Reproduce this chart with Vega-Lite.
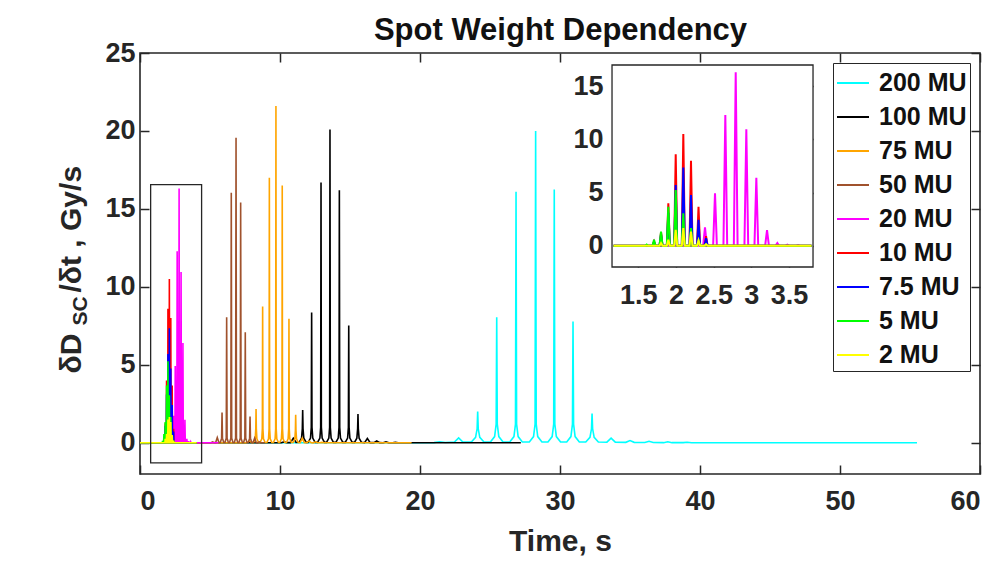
{
  "$schema": "https://vega.github.io/schema/vega-lite/v6.json",
  "width": 840,
  "height": 421,
  "autosize": {"type": "none"},
  "padding": {"left": 140, "top": 53, "right": 19, "bottom": 89},
  "background": "white",
  "config": {
    "view": {"stroke": "#262626", "strokeWidth": 1.6},
    "font": "Liberation Sans",
    "axis": {"labelFont": "Liberation Sans", "labelFontSize": 27, "labelFontWeight": "bold", "labelColor": "#262626", "titleFont": "Liberation Sans", "titleFontSize": 30, "titleFontWeight": "bold", "titleColor": "#262626", "tickColor": "#262626", "tickWidth": 1.5, "grid": false, "domain": false, "zindex": 1, "labelOverlap": false}
  },
  "datasets": {
    "box": [{"x1": 0.76, "x2": 4.4, "y1": -1.29, "y2": 16.56}],
    "inset": [{"x1": 1.15, "x2": 3.82, "y1": -2, "y2": 17}],
    "lines": [
      {"s":"200 MU","t":0,"v":0},{"s":"200 MU","t":21.0,"v":0.01},{"s":"200 MU","t":21.4,"v":0.07},{"s":"200 MU","t":21.8,"v":0.02},{"s":"200 MU","t":22.46,"v":0.05},{"s":"200 MU","t":22.76,"v":0.32},{"s":"200 MU","t":23.06,"v":0.05},
      {"s":"200 MU","t":23.67,"v":0.05},{"s":"200 MU","t":23.97,"v":0.35},{"s":"200 MU","t":24.08,"v":0.9},{"s":"200 MU","t":24.12,"v":2.0},{"s":"200 MU","t":24.16,"v":0.9},{"s":"200 MU","t":24.27,"v":0.35},{"s":"200 MU","t":24.57,"v":0.05},
      {"s":"200 MU","t":25.03,"v":0.05},{"s":"200 MU","t":25.33,"v":0.4},{"s":"200 MU","t":25.44,"v":1.2},{"s":"200 MU","t":25.48,"v":8.06},{"s":"200 MU","t":25.52,"v":1.2},{"s":"200 MU","t":25.63,"v":0.4},{"s":"200 MU","t":25.93,"v":0.05},
      {"s":"200 MU","t":26.41,"v":0.05},{"s":"200 MU","t":26.71,"v":0.4},{"s":"200 MU","t":26.82,"v":1.2},{"s":"200 MU","t":26.86,"v":16.1},{"s":"200 MU","t":26.9,"v":1.2},{"s":"200 MU","t":27.01,"v":0.4},{"s":"200 MU","t":27.31,"v":0.05},
      {"s":"200 MU","t":27.81,"v":0.05},{"s":"200 MU","t":28.11,"v":0.4},{"s":"200 MU","t":28.22,"v":1.2},{"s":"200 MU","t":28.26,"v":20.0},{"s":"200 MU","t":28.3,"v":1.2},{"s":"200 MU","t":28.41,"v":0.4},{"s":"200 MU","t":28.71,"v":0.05},
      {"s":"200 MU","t":29.14,"v":0.05},{"s":"200 MU","t":29.44,"v":0.4},{"s":"200 MU","t":29.55,"v":1.2},{"s":"200 MU","t":29.59,"v":16.25},{"s":"200 MU","t":29.63,"v":1.2},{"s":"200 MU","t":29.74,"v":0.4},{"s":"200 MU","t":30.04,"v":0.05},
      {"s":"200 MU","t":30.48,"v":0.05},{"s":"200 MU","t":30.78,"v":0.4},{"s":"200 MU","t":30.89,"v":1.2},{"s":"200 MU","t":30.93,"v":7.78},{"s":"200 MU","t":30.97,"v":1.2},{"s":"200 MU","t":31.08,"v":0.4},{"s":"200 MU","t":31.38,"v":0.05},
      {"s":"200 MU","t":31.84,"v":0.05},{"s":"200 MU","t":32.14,"v":0.35},{"s":"200 MU","t":32.25,"v":0.9},{"s":"200 MU","t":32.29,"v":1.88},{"s":"200 MU","t":32.33,"v":0.9},{"s":"200 MU","t":32.44,"v":0.35},{"s":"200 MU","t":32.74,"v":0.05},
      {"s":"200 MU","t":33.35,"v":0.04},{"s":"200 MU","t":33.65,"v":0.3},{"s":"200 MU","t":33.95,"v":0.04},{"s":"200 MU","t":34.7,"v":0.03},{"s":"200 MU","t":35.0,"v":0.14},{"s":"200 MU","t":35.3,"v":0.03},{"s":"200 MU","t":36.06,"v":0.02},{"s":"200 MU","t":36.36,"v":0.1},{"s":"200 MU","t":36.66,"v":0.02},{"s":"200 MU","t":37.4,"v":0.01},{"s":"200 MU","t":37.7,"v":0.07},{"s":"200 MU","t":38.0,"v":0.01},{"s":"200 MU","t":38.8,"v":0.01},{"s":"200 MU","t":39.08,"v":0.04},{"s":"200 MU","t":39.4,"v":0},{"s":"200 MU","t":55.5,"v":0},

      {"s":"100 MU","t":0,"v":0},{"s":"100 MU","t":10.09,"v":0},{"s":"100 MU","t":10.29,"v":0.06},{"s":"100 MU","t":10.49,"v":0.01},{"s":"100 MU","t":10.75,"v":0.01},{"s":"100 MU","t":10.95,"v":0.3},{"s":"100 MU","t":11.15,"v":0.02},
      {"s":"100 MU","t":11.37,"v":0.03},{"s":"100 MU","t":11.54,"v":0.3},{"s":"100 MU","t":11.595,"v":0.9},{"s":"100 MU","t":11.62,"v":2.1},{"s":"100 MU","t":11.645,"v":0.9},{"s":"100 MU","t":11.7,"v":0.3},{"s":"100 MU","t":11.87,"v":0.03},
      {"s":"100 MU","t":12.01,"v":0.03},{"s":"100 MU","t":12.18,"v":0.3},{"s":"100 MU","t":12.235,"v":1.0},{"s":"100 MU","t":12.26,"v":8.36},{"s":"100 MU","t":12.285,"v":1.0},{"s":"100 MU","t":12.34,"v":0.3},{"s":"100 MU","t":12.51,"v":0.03},
      {"s":"100 MU","t":12.68,"v":0.03},{"s":"100 MU","t":12.85,"v":0.3},{"s":"100 MU","t":12.905,"v":1.0},{"s":"100 MU","t":12.93,"v":16.7},{"s":"100 MU","t":12.955,"v":1.0},{"s":"100 MU","t":13.01,"v":0.3},{"s":"100 MU","t":13.18,"v":0.03},
      {"s":"100 MU","t":13.32,"v":0.03},{"s":"100 MU","t":13.49,"v":0.3},{"s":"100 MU","t":13.545,"v":1.0},{"s":"100 MU","t":13.57,"v":20.1},{"s":"100 MU","t":13.595,"v":1.0},{"s":"100 MU","t":13.65,"v":0.3},{"s":"100 MU","t":13.82,"v":0.03},
      {"s":"100 MU","t":13.99,"v":0.03},{"s":"100 MU","t":14.16,"v":0.3},{"s":"100 MU","t":14.215,"v":1.0},{"s":"100 MU","t":14.24,"v":16.2},{"s":"100 MU","t":14.265,"v":1.0},{"s":"100 MU","t":14.32,"v":0.3},{"s":"100 MU","t":14.49,"v":0.03},
      {"s":"100 MU","t":14.66,"v":0.03},{"s":"100 MU","t":14.83,"v":0.3},{"s":"100 MU","t":14.885,"v":1.0},{"s":"100 MU","t":14.91,"v":7.52},{"s":"100 MU","t":14.935,"v":1.0},{"s":"100 MU","t":14.99,"v":0.3},{"s":"100 MU","t":15.16,"v":0.03},
      {"s":"100 MU","t":15.32,"v":0.03},{"s":"100 MU","t":15.49,"v":0.3},{"s":"100 MU","t":15.545,"v":0.9},{"s":"100 MU","t":15.57,"v":1.85},{"s":"100 MU","t":15.595,"v":0.9},{"s":"100 MU","t":15.65,"v":0.3},{"s":"100 MU","t":15.82,"v":0.03},
      {"s":"100 MU","t":16.04,"v":0.01},{"s":"100 MU","t":16.24,"v":0.28},{"s":"100 MU","t":16.44,"v":0.01},{"s":"100 MU","t":16.71,"v":0.01},{"s":"100 MU","t":16.91,"v":0.12},{"s":"100 MU","t":17.11,"v":0.01},{"s":"100 MU","t":17.37,"v":0},{"s":"100 MU","t":17.57,"v":0.06},{"s":"100 MU","t":17.77,"v":0},{"s":"100 MU","t":18.04,"v":0},{"s":"100 MU","t":18.24,"v":0.03},{"s":"100 MU","t":18.44,"v":0},{"s":"100 MU","t":27.2,"v":0},

      {"s":"75 MU","t":0,"v":0},{"s":"75 MU","t":7.63,"v":0},{"s":"75 MU","t":7.81,"v":0.12},{"s":"75 MU","t":7.99,"v":0.01},
      {"s":"75 MU","t":8.11,"v":0.02},{"s":"75 MU","t":8.23,"v":0.25},{"s":"75 MU","t":8.27,"v":0.9},{"s":"75 MU","t":8.29,"v":2.17},{"s":"75 MU","t":8.31,"v":0.9},{"s":"75 MU","t":8.35,"v":0.25},{"s":"75 MU","t":8.47,"v":0.02},
      {"s":"75 MU","t":8.58,"v":0.02},{"s":"75 MU","t":8.7,"v":0.25},{"s":"75 MU","t":8.74,"v":0.9},{"s":"75 MU","t":8.76,"v":8.75},{"s":"75 MU","t":8.78,"v":0.9},{"s":"75 MU","t":8.82,"v":0.25},{"s":"75 MU","t":8.94,"v":0.02},
      {"s":"75 MU","t":9.06,"v":0.02},{"s":"75 MU","t":9.18,"v":0.25},{"s":"75 MU","t":9.22,"v":0.9},{"s":"75 MU","t":9.24,"v":17.0},{"s":"75 MU","t":9.26,"v":0.9},{"s":"75 MU","t":9.3,"v":0.25},{"s":"75 MU","t":9.42,"v":0.02},
      {"s":"75 MU","t":9.53,"v":0.02},{"s":"75 MU","t":9.65,"v":0.25},{"s":"75 MU","t":9.69,"v":0.9},{"s":"75 MU","t":9.71,"v":21.6},{"s":"75 MU","t":9.73,"v":0.9},{"s":"75 MU","t":9.77,"v":0.25},{"s":"75 MU","t":9.89,"v":0.02},
      {"s":"75 MU","t":9.98,"v":0.02},{"s":"75 MU","t":10.1,"v":0.25},{"s":"75 MU","t":10.14,"v":0.9},{"s":"75 MU","t":10.16,"v":16.5},{"s":"75 MU","t":10.18,"v":0.9},{"s":"75 MU","t":10.22,"v":0.25},{"s":"75 MU","t":10.34,"v":0.02},
      {"s":"75 MU","t":10.46,"v":0.02},{"s":"75 MU","t":10.58,"v":0.25},{"s":"75 MU","t":10.62,"v":0.9},{"s":"75 MU","t":10.64,"v":7.96},{"s":"75 MU","t":10.66,"v":0.9},{"s":"75 MU","t":10.7,"v":0.25},{"s":"75 MU","t":10.82,"v":0.02},
      {"s":"75 MU","t":10.94,"v":0.02},{"s":"75 MU","t":11.06,"v":0.25},{"s":"75 MU","t":11.1,"v":0.8},{"s":"75 MU","t":11.12,"v":1.8},{"s":"75 MU","t":11.14,"v":0.8},{"s":"75 MU","t":11.18,"v":0.25},{"s":"75 MU","t":11.3,"v":0.02},
      {"s":"75 MU","t":11.44,"v":0.01},{"s":"75 MU","t":11.59,"v":0.3},{"s":"75 MU","t":11.74,"v":0.01},{"s":"75 MU","t":11.92,"v":0.01},{"s":"75 MU","t":12.07,"v":0.12},{"s":"75 MU","t":12.22,"v":0.01},{"s":"75 MU","t":12.39,"v":0},{"s":"75 MU","t":12.54,"v":0.06},{"s":"75 MU","t":12.69,"v":0},{"s":"75 MU","t":12.85,"v":0},{"s":"75 MU","t":13.0,"v":0.03},{"s":"75 MU","t":13.15,"v":0},{"s":"75 MU","t":19.4,"v":0},

      {"s":"50 MU","t":0,"v":0},{"s":"50 MU","t":5.07,"v":0},{"s":"50 MU","t":5.19,"v":0.06},{"s":"50 MU","t":5.31,"v":0.01},{"s":"50 MU","t":5.4,"v":0.01},{"s":"50 MU","t":5.52,"v":0.34},{"s":"50 MU","t":5.64,"v":0.01},
      {"s":"50 MU","t":5.74,"v":0.02},{"s":"50 MU","t":5.83,"v":0.3},{"s":"50 MU","t":5.86,"v":1.95},{"s":"50 MU","t":5.89,"v":0.3},{"s":"50 MU","t":5.98,"v":0.02},
      {"s":"50 MU","t":6.07,"v":0.02},{"s":"50 MU","t":6.16,"v":0.3},{"s":"50 MU","t":6.19,"v":8.06},{"s":"50 MU","t":6.22,"v":0.3},{"s":"50 MU","t":6.31,"v":0.02},
      {"s":"50 MU","t":6.4,"v":0.02},{"s":"50 MU","t":6.49,"v":0.3},{"s":"50 MU","t":6.52,"v":16.03},{"s":"50 MU","t":6.55,"v":0.3},{"s":"50 MU","t":6.64,"v":0.02},
      {"s":"50 MU","t":6.74,"v":0.02},{"s":"50 MU","t":6.83,"v":0.3},{"s":"50 MU","t":6.86,"v":19.57},{"s":"50 MU","t":6.89,"v":0.3},{"s":"50 MU","t":6.98,"v":0.02},
      {"s":"50 MU","t":7.07,"v":0.02},{"s":"50 MU","t":7.16,"v":0.3},{"s":"50 MU","t":7.19,"v":15.41},{"s":"50 MU","t":7.22,"v":0.3},{"s":"50 MU","t":7.31,"v":0.02},
      {"s":"50 MU","t":7.4,"v":0.02},{"s":"50 MU","t":7.49,"v":0.3},{"s":"50 MU","t":7.52,"v":7.09},{"s":"50 MU","t":7.55,"v":0.3},{"s":"50 MU","t":7.64,"v":0.02},
      {"s":"50 MU","t":7.74,"v":0.02},{"s":"50 MU","t":7.83,"v":0.3},{"s":"50 MU","t":7.86,"v":1.69},{"s":"50 MU","t":7.89,"v":0.3},{"s":"50 MU","t":7.98,"v":0.02},
      {"s":"50 MU","t":8.07,"v":0.01},{"s":"50 MU","t":8.19,"v":0.3},{"s":"50 MU","t":8.31,"v":0.01},{"s":"50 MU","t":8.4,"v":0},{"s":"50 MU","t":8.52,"v":0.06},{"s":"50 MU","t":8.64,"v":0},{"s":"50 MU","t":8.9,"v":0},

      {"s":"20 MU","t":0,"v":0},{"s":"20 MU","t":1.17,"v":0},{"s":"20 MU","t":2.36,"v":0},{"s":"20 MU","t":2.385,"v":1.73},{"s":"20 MU","t":2.41,"v":0},{"s":"20 MU","t":2.493,"v":0},{"s":"20 MU","t":2.518,"v":4.93},{"s":"20 MU","t":2.543,"v":0},{"s":"20 MU","t":2.63,"v":0},{"s":"20 MU","t":2.655,"v":12.29},{"s":"20 MU","t":2.68,"v":0},{"s":"20 MU","t":2.768,"v":0},{"s":"20 MU","t":2.793,"v":16.31},{"s":"20 MU","t":2.818,"v":0},{"s":"20 MU","t":2.909,"v":0},{"s":"20 MU","t":2.934,"v":10.95},{"s":"20 MU","t":2.959,"v":0},{"s":"20 MU","t":3.042,"v":0},{"s":"20 MU","t":3.067,"v":6.4},{"s":"20 MU","t":3.092,"v":0},{"s":"20 MU","t":3.184,"v":0},{"s":"20 MU","t":3.209,"v":1.48},{"s":"20 MU","t":3.234,"v":0},{"s":"20 MU","t":3.321,"v":0},{"s":"20 MU","t":3.346,"v":0.25},{"s":"20 MU","t":3.371,"v":0},{"s":"20 MU","t":3.454,"v":0},{"s":"20 MU","t":3.479,"v":0.1},{"s":"20 MU","t":3.504,"v":0},{"s":"20 MU","t":3.596,"v":0},{"s":"20 MU","t":3.621,"v":0.06},{"s":"20 MU","t":3.646,"v":0},{"s":"20 MU","t":3.8,"v":0},{"s":"20 MU","t":5.6,"v":0},

      {"s":"10 MU","t":0,"v":0},{"s":"10 MU","t":1.17,"v":0},{"s":"10 MU","t":1.688,"v":0},{"s":"10 MU","t":1.708,"v":0.4},{"s":"10 MU","t":1.728,"v":0},{"s":"10 MU","t":1.781,"v":0},{"s":"10 MU","t":1.801,"v":1.25},{"s":"10 MU","t":1.821,"v":0},{"s":"10 MU","t":1.878,"v":0},{"s":"10 MU","t":1.898,"v":3.99},{"s":"10 MU","t":1.918,"v":0},{"s":"10 MU","t":1.976,"v":0},{"s":"10 MU","t":1.996,"v":8.6},{"s":"10 MU","t":2.016,"v":0},{"s":"10 MU","t":2.077,"v":0},{"s":"10 MU","t":2.097,"v":10.5},{"s":"10 MU","t":2.117,"v":0},{"s":"10 MU","t":2.179,"v":0},{"s":"10 MU","t":2.199,"v":8.0},{"s":"10 MU","t":2.219,"v":0},{"s":"10 MU","t":2.279,"v":0},{"s":"10 MU","t":2.299,"v":3.67},{"s":"10 MU","t":2.319,"v":0},{"s":"10 MU","t":2.379,"v":0},{"s":"10 MU","t":2.399,"v":0.9},{"s":"10 MU","t":2.419,"v":0},{"s":"10 MU","t":3.8,"v":0},{"s":"10 MU","t":4.05,"v":0},

      {"s":"7.5 MU","t":0,"v":0},{"s":"7.5 MU","t":1.17,"v":0},{"s":"7.5 MU","t":1.688,"v":0},{"s":"7.5 MU","t":1.708,"v":0.35},{"s":"7.5 MU","t":1.728,"v":0},{"s":"7.5 MU","t":1.781,"v":0},{"s":"7.5 MU","t":1.801,"v":1.1},{"s":"7.5 MU","t":1.821,"v":0},{"s":"7.5 MU","t":1.878,"v":0},{"s":"7.5 MU","t":1.898,"v":3.1},{"s":"7.5 MU","t":1.918,"v":0},{"s":"7.5 MU","t":1.976,"v":0},{"s":"7.5 MU","t":1.996,"v":5.7},{"s":"7.5 MU","t":2.016,"v":0},{"s":"7.5 MU","t":2.077,"v":0},{"s":"7.5 MU","t":2.097,"v":7.35},{"s":"7.5 MU","t":2.117,"v":0},{"s":"7.5 MU","t":2.179,"v":0},{"s":"7.5 MU","t":2.199,"v":4.77},{"s":"7.5 MU","t":2.219,"v":0},{"s":"7.5 MU","t":2.279,"v":0},{"s":"7.5 MU","t":2.299,"v":2.43},{"s":"7.5 MU","t":2.319,"v":0},{"s":"7.5 MU","t":2.379,"v":0},{"s":"7.5 MU","t":2.399,"v":0.72},{"s":"7.5 MU","t":2.419,"v":0},{"s":"7.5 MU","t":3.8,"v":0},{"s":"7.5 MU","t":4.05,"v":0},

      {"s":"5 MU","t":0,"v":0},{"s":"5 MU","t":1.17,"v":0},{"s":"5 MU","t":1.59,"v":0},{"s":"5 MU","t":1.61,"v":0.12},{"s":"5 MU","t":1.63,"v":0},{"s":"5 MU","t":1.688,"v":0},{"s":"5 MU","t":1.708,"v":0.56},{"s":"5 MU","t":1.728,"v":0},{"s":"5 MU","t":1.781,"v":0},{"s":"5 MU","t":1.801,"v":1.34},{"s":"5 MU","t":1.821,"v":0},{"s":"5 MU","t":1.878,"v":0},{"s":"5 MU","t":1.898,"v":3.67},{"s":"5 MU","t":1.918,"v":0},{"s":"5 MU","t":1.976,"v":0},{"s":"5 MU","t":1.996,"v":5.23},{"s":"5 MU","t":2.016,"v":0},{"s":"5 MU","t":2.077,"v":0},{"s":"5 MU","t":2.097,"v":3.05},{"s":"5 MU","t":2.117,"v":0},{"s":"5 MU","t":2.179,"v":0},{"s":"5 MU","t":2.199,"v":1.65},{"s":"5 MU","t":2.219,"v":0},{"s":"5 MU","t":2.279,"v":0},{"s":"5 MU","t":2.299,"v":0.5},{"s":"5 MU","t":2.319,"v":0},{"s":"5 MU","t":2.379,"v":0},{"s":"5 MU","t":2.399,"v":0.12},{"s":"5 MU","t":2.419,"v":0},{"s":"5 MU","t":3.8,"v":0},{"s":"5 MU","t":4.05,"v":0},

      {"s":"2 MU","t":0,"v":0},{"s":"2 MU","t":1.17,"v":0},{"s":"2 MU","t":1.781,"v":0},{"s":"2 MU","t":1.801,"v":0.25},{"s":"2 MU","t":1.821,"v":0},{"s":"2 MU","t":1.878,"v":0},{"s":"2 MU","t":1.898,"v":0.56},{"s":"2 MU","t":1.918,"v":0},{"s":"2 MU","t":1.976,"v":0},{"s":"2 MU","t":1.996,"v":1.5},{"s":"2 MU","t":2.016,"v":0},{"s":"2 MU","t":2.077,"v":0},{"s":"2 MU","t":2.097,"v":1.65},{"s":"2 MU","t":2.117,"v":0},{"s":"2 MU","t":2.179,"v":0},{"s":"2 MU","t":2.199,"v":1.34},{"s":"2 MU","t":2.219,"v":0},{"s":"2 MU","t":2.279,"v":0},{"s":"2 MU","t":2.299,"v":0.5},{"s":"2 MU","t":2.319,"v":0},{"s":"2 MU","t":2.379,"v":0},{"s":"2 MU","t":2.399,"v":0.15},{"s":"2 MU","t":2.419,"v":0},{"s":"2 MU","t":3.8,"v":0},{"s":"2 MU","t":4.05,"v":0}
    ]
  },
  "resolve": {"scale": {"x": "independent", "y": "independent"}, "axis": {"x": "independent", "y": "independent"}},
  "layer": [
    {
      "data": {"name": "lines"},
      "mark": {"type": "line", "strokeWidth": 1.6},
      "encoding": {
        "x": {"field": "t", "type": "quantitative", "scale": {"domain": [0, 60], "nice": false, "zero": false},
              "axis": {"orient": "bottom", "values": [0, 10, 20, 30, 40, 50, 60], "tickSize": -9, "labelPadding": 23, "title": "Time, s", "titleX": 420, "titleY": 76, "titleAlign": "center", "titleBaseline": "alphabetic"}},
        "y": {"field": "v", "type": "quantitative", "scale": {"domain": [-2, 25], "nice": false, "zero": false},
              "axis": {"orient": "left", "values": [0, 5, 10, 15, 20, 25], "tickSize": -9, "labelPadding": 14, "title": "δD", "titleX": -60, "titleY": 320, "titleAngle": -90, "titleAlign": "left", "titleBaseline": "alphabetic"}},
        "color": {"field": "s", "type": "nominal",
                  "scale": {"domain": ["200 MU", "100 MU", "75 MU", "50 MU", "20 MU", "10 MU", "7.5 MU", "5 MU", "2 MU"],
                            "range": ["#00FFFF", "#000000", "#FFA500", "#A0522D", "#FF00FF", "#FF0000", "#0000FF", "#00FF00", "#FFFF00"]},
                  "legend": {"title": null, "orient": "top-right", "offset": 10, "symbolType": "stroke", "symbolSize": 1024, "symbolStrokeWidth": 2, "labelFontSize": 25, "labelFontWeight": "bold", "labelFont": "Liberation Sans", "labelColor": "#111111", "strokeColor": "#262626", "fillColor": "white", "padding": 3, "rowPadding": 4, "labelOffset": 9, "labelLimit": 300}}
      }
    },
    {
      "data": {"name": "box"},
      "mark": {"type": "rect", "fill": "transparent", "stroke": "#262626", "strokeWidth": 1.3},
      "encoding": {
        "x": {"field": "x1", "type": "quantitative", "scale": {"domain": [0, 60], "nice": false, "zero": false},
              "axis": {"orient": "top", "values": [0, 10, 20, 30, 40, 50, 60], "tickSize": -9, "labels": false, "title": "Spot Weight Dependency", "titleColor": "#111111", "titleX": 420, "titleY": -14, "titleAlign": "center", "titleBaseline": "alphabetic", "titleFontSize": 31}},
        "x2": {"field": "x2"},
        "y": {"field": "y1", "type": "quantitative", "scale": {"domain": [-2, 25], "nice": false, "zero": false},
              "axis": {"orient": "right", "values": [0, 5, 10, 15, 20, 25], "tickSize": -9, "labels": false, "title": null}},
        "y2": {"field": "y2"}
      }
    },
    {
      "data": {"name": "inset"},
      "mark": {"type": "rect", "fill": "white", "stroke": "#262626", "strokeWidth": 1.3},
      "encoding": {
        "x": {"field": "x1", "type": "quantitative", "scale": {"domain": [-5.12, 6.038], "nice": false, "zero": false},
              "axis": {"orient": "bottom", "offset": -207, "values": [1.5, 2, 2.5, 3, 3.5], "format": ".1~f", "tickSize": -4, "labelPadding": 19, "title": null}},
        "x2": {"field": "x2"},
        "y": {"field": "y1", "type": "quantitative", "scale": {"domain": [-21.47, 18.129], "nice": false, "zero": false},
              "axis": {"orient": "left", "offset": -472, "values": [0, 5, 10, 15], "tickSize": -4, "labelPadding": 13, "title": null}},
        "y2": {"field": "y2"}
      }
    },
    {
      "data": {"name": "lines"},
      "transform": [{"filter": "datum.t >= 1.15 && datum.t <= 3.82"}],
      "mark": {"type": "line", "strokeWidth": 2},
      "encoding": {
        "x": {"field": "t", "type": "quantitative", "scale": {"domain": [-5.12, 6.038], "nice": false, "zero": false},
              "axis": {"orient": "top", "offset": -12, "values": [1.5, 2, 2.5, 3, 3.5], "tickSize": -4, "labels": false, "title": null}},
        "y": {"field": "v", "type": "quantitative", "scale": {"domain": [-21.47, 18.129], "nice": false, "zero": false},
              "axis": {"orient": "right", "offset": -167, "values": [0, 5, 10, 15], "tickSize": -4, "labels": false, "title": null}},
        "color": {"field": "s", "type": "nominal",
                  "scale": {"domain": ["200 MU", "100 MU", "75 MU", "50 MU", "20 MU", "10 MU", "7.5 MU", "5 MU", "2 MU"],
                            "range": ["#00FFFF", "#000000", "#FFA500", "#A0522D", "#FF00FF", "#FF0000", "#0000FF", "#00FF00", "#FFFF00"]}}
      }
    },
    {
      "data": {"name": "box"},
      "mark": {"type": "rule", "opacity": 0},
      "encoding": {
        "y": {"field": "y1", "type": "quantitative", "scale": {"domain": [-2, 25], "nice": false, "zero": false},
              "axis": {"orient": "left", "labels": false, "ticks": false, "domain": false, "title": "SC", "titleFontSize": 21, "titleX": -54, "titleY": 272, "titleAngle": -90, "titleAlign": "left", "titleBaseline": "alphabetic"}}
      }
    },
    {
      "data": {"name": "box"},
      "mark": {"type": "rule", "opacity": 0},
      "encoding": {
        "y": {"field": "y2", "type": "quantitative", "scale": {"domain": [-2, 25], "nice": false, "zero": false},
              "axis": {"orient": "left", "labels": false, "ticks": false, "domain": false, "title": "/δt , Gy/s", "titleX": -60, "titleY": 239, "titleAngle": -90, "titleAlign": "left", "titleBaseline": "alphabetic"}}
      }
    }
  ]
}
